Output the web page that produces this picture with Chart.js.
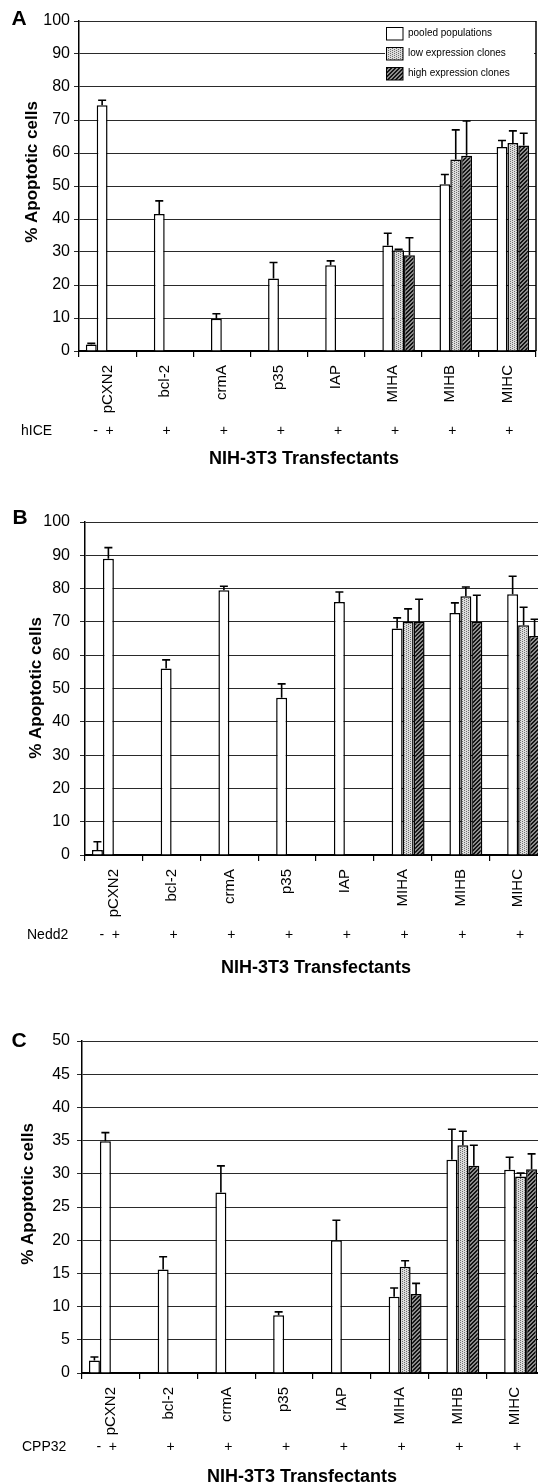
<!DOCTYPE html>
<html>
<head>
<meta charset="utf-8">
<script src="https://cdn.jsdelivr.net/npm/chart.js@4.4.1/dist/chart.umd.min.js"></script>
<style>
  html, body { margin: 0; padding: 0; background: #fff; width: 538px; height: 1484px; overflow: hidden; }
  canvas { position: absolute; left: 0; }
</style>
</head>
<body>
<canvas id="chartA" width="560" height="480" style="top:0px"></canvas>
<canvas id="chartB" width="560" height="520" style="top:480px"></canvas>
<canvas id="chartC" width="560" height="484" style="top:1000px"></canvas>
<script>
'use strict';

var categories = ['pCXN2', 'bcl-2', 'crmA', 'p35', 'IAP', 'MIHA', 'MIHB', 'MIHC'];
var seriesNames = ['pooled populations', 'low expression clones', 'high expression clones'];
var plusSigns = ['+', '+', '+', '+', '+', '+', '+', '+'];
var xTitle = 'NIH-3T3 Transfectants';
var yTitle = '% Apoptotic cells';

// Panel A - hICE
var hiceControl    = [2.0, null, null, null, null, null, null, null];
var hiceControlErr = [0.3, 0, 0, 0, 0, 0, 0, 0];
var hicePooled     = [74.5, 41.5, 9.8, 22.0, 26.0, 32.0, 50.5, 61.8];
var hicePooledErr  = [1.5, 4.0, 1.5, 4.8, 1.3, 3.7, 3.0, 2.0];
var hiceLow        = [null, null, null, null, null, 30.5, 58.0, 63.0];
var hiceLowErr     = [0, 0, 0, 0, 0, 0.3, 9.0, 3.7];
var hiceHigh       = [null, null, null, null, null, 29.0, 59.2, 62.3];
var hiceHighErr    = [0, 0, 0, 0, 0, 5.3, 10.5, 3.7];

// Panel B - Nedd2
var neddControl    = [1.5, null, null, null, null, null, null, null];
var neddControlErr = [2.5, 0, 0, 0, 0, 0, 0, 0];
var neddPooled     = [89.0, 56.0, 79.5, 47.2, 76.0, 68.0, 72.7, 78.3];
var neddPooledErr  = [3.3, 2.6, 1.2, 4.2, 3.0, 3.2, 3.0, 5.4];
var neddLow        = [null, null, null, null, null, 70.0, 77.7, 69.0];
var neddLowErr     = [0, 0, 0, 0, 0, 3.9, 2.8, 5.4];
var neddHigh       = [null, null, null, null, null, 70.0, 70.0, 65.8];
var neddHighErr    = [0, 0, 0, 0, 0, 6.8, 8.0, 5.0];

// Panel C - CPP32
var cppControl     = [1.9, null, null, null, null, null, null, null];
var cppControlErr  = [0.5, 0, 0, 0, 0, 0, 0, 0];
var cppPooled      = [34.9, 15.6, 27.2, 8.7, 20.0, 11.5, 32.1, 30.6];
var cppPooledErr   = [1.3, 1.9, 4.0, 0.5, 3.0, 1.3, 4.6, 1.9];
var cppLow         = [null, null, null, null, null, 16.0, 34.3, 29.6];
var cppLowErr      = [0, 0, 0, 0, 0, 0.9, 2.1, 0.5];
var cppHigh        = [null, null, null, null, null, 11.9, 31.2, 30.7];
var cppHighErr     = [0, 0, 0, 0, 0, 1.6, 3.1, 2.3];

Chart.defaults.font.family = "'Liberation Sans', Arial, Helvetica, sans-serif";
Chart.defaults.color = '#000';

// fill patterns for the clone series
function makePattern(bg, fg, isDark) {
  var tile = document.createElement('canvas');
  tile.width = 4; tile.height = 4;
  var g = tile.getContext('2d');
  g.fillStyle = bg;
  g.fillRect(0, 0, 4, 4);
  g.fillStyle = fg;
  for (var x = 0; x < 4; x++) {
    for (var y = 0; y < 4; y++) {
      if (isDark) {
        if ((x + y) % 4 === 3 || (x + y) % 4 === 2) g.fillRect(x, y, 1, 1);
      } else {
        if ((x + 2 * y) % 4 === 0) g.fillRect(x, y, 1, 1);
      }
    }
  }
  return document.createElement('canvas').getContext('2d').createPattern(tile, 'repeat');
}
var stipple = makePattern('#dcdcdc', '#6e6e6e', false);
var hatch = makePattern('#8c8c8c', '#141414', true);

var errorBars = {
  id: 'errorBars',
  afterDatasetsDraw: function (chart) {
    var ctx = chart.ctx, yScale = chart.scales.y;
    ctx.save();
    ctx.strokeStyle = '#000';
    ctx.lineWidth = 1.6;
    chart.data.datasets.forEach(function (ds, di) {
      var meta = chart.getDatasetMeta(di);
      meta.data.forEach(function (bar, i) {
        var v = ds.data[i], e = ds.errors[i];
        if (v == null || !e) return;
        var top = yScale.getPixelForValue(v + e);
        ctx.beginPath();
        ctx.moveTo(bar.x, bar.y);
        ctx.lineTo(bar.x, top);
        ctx.moveTo(bar.x - 4, top);
        ctx.lineTo(bar.x + 4, top);
        ctx.stroke();
      });
    });
    ctx.restore();
  }
};

var panelText = {
  id: 'panelText',
  afterDraw: function (chart, args, o) {
    var ctx = chart.ctx, xs = chart.scales.x, area = chart.chartArea;
    ctx.save();
    ctx.fillStyle = '#000';
    // right frame
    ctx.strokeStyle = '#000';
    ctx.lineWidth = 1.5;
    ctx.beginPath();
    ctx.moveTo(area.right, area.top);
    ctx.lineTo(area.right, area.bottom);
    ctx.stroke();

    ctx.textBaseline = 'middle';
    ctx.font = "bold 21px 'Liberation Sans', Arial, sans-serif";
    ctx.textAlign = 'center';
    ctx.fillText(o.letter, o.letterX, o.letterY);

    ctx.font = "14px 'Liberation Sans', Arial, sans-serif";
    ctx.textAlign = 'left';
    ctx.fillText(o.treatment, o.treatX, o.treatY);
    ctx.textAlign = 'center';
    plusSigns.forEach(function (s, i) {
      ctx.fillText(s, xs.getPixelForValue(i) + 2, o.treatY);
    });
    ctx.fillText('-', xs.getPixelForValue(0) - 12, o.treatY);

    ctx.font = "bold 18px 'Liberation Sans', Arial, sans-serif";
    ctx.fillText(xTitle, o.titleX, o.titleY);

    ctx.font = "bold 17px 'Liberation Sans', Arial, sans-serif";
    ctx.translate(o.yTitleX, o.yTitleY);
    ctx.rotate(-Math.PI / 2);
    ctx.fillText(yTitle, 0, 0);
    ctx.restore();
  }
};

var insideLegend = {
  id: 'insideLegend',
  afterDraw: function (chart, args, o) {
    if (!o.show) return;
    var ctx = chart.ctx, area = chart.chartArea;
    var boxX = area.right - 150, top = area.top;
    ctx.save();
    ctx.fillStyle = '#fff';
    ctx.fillRect(boxX - 1, top + 2, area.right - boxX - 1, 60);
    ctx.font = "10px 'Liberation Sans', Arial, sans-serif";
    ctx.textBaseline = 'middle';
    ctx.textAlign = 'left';
    chart.data.datasets.slice(1).forEach(function (ds, i) {
      var cy = top + 12.5 + i * 20;
      ctx.fillStyle = ds.backgroundColor;
      ctx.fillRect(boxX, cy - 6.5, 17, 13);
      ctx.strokeStyle = '#000';
      ctx.lineWidth = 1;
      ctx.strokeRect(boxX + 0.5, cy - 6, 16.5, 12.5);
      ctx.fillStyle = '#000';
      ctx.fillText(ds.label, boxX + 22, cy);
    });
    ctx.restore();
  }
};

function makePanel(id, d, g) {
  var barStyle = { borderColor: '#000', borderWidth: 1.5, categoryPercentage: 0.76, barPercentage: 1.0 };
  function ds(label, data, errors, fill) {
    return Object.assign({ label: label, data: data, errors: errors, backgroundColor: fill }, barStyle);
  }
  return new Chart(document.getElementById(id), {
    type: 'bar',
    data: {
      labels: categories,
      datasets: [
        ds('control', d.control, d.controlErr, '#fff'),
        ds(seriesNames[0], d.pooled, d.pooledErr, '#fff'),
        ds(seriesNames[1], d.low, d.lowErr, stipple),
        ds(seriesNames[2], d.high, d.highErr, hatch)
      ]
    },
    options: {
      responsive: false,
      animation: false,
      layout: { padding: { top: g.top, right: g.right, left: 0, bottom: 0 } },
      plugins: {
        legend: { display: false },
        tooltip: { enabled: false },
        panelText: g.text,
        insideLegend: { show: g.legend }
      },
      scales: {
        x: {
          grid: { offset: true, drawOnChartArea: false, drawTicks: true, tickLength: 6, color: '#000', lineWidth: 1.2 },
          border: { display: true, color: '#000', width: 2 },
          ticks: { minRotation: 90, maxRotation: 90, autoSkip: false, padding: 8, font: { size: 15 }, color: '#000' },
          afterFit: function (s) { s.height = g.xHeight; }
        },
        y: {
          min: 0,
          max: g.max,
          grid: { color: '#2a2a2a', lineWidth: 1, tickLength: 5, drawTicks: true },
          border: { display: true, color: '#000', width: 1.5 },
          ticks: { stepSize: g.step, padding: g.tickPad, font: { size: 16 }, color: '#000' },
          afterFit: function (s) { s.width = g.yWidth; }
        }
      }
    },
    plugins: [errorBars, panelText, insideLegend]
  });
}

makePanel('chartA',
  { control: hiceControl, controlErr: hiceControlErr, pooled: hicePooled, pooledErr: hicePooledErr,
    low: hiceLow, lowErr: hiceLowErr, high: hiceHigh, highErr: hiceHighErr },
  { top: 21, right: 24, xHeight: 129, yWidth: 79, tickPad: 4, max: 100, step: 10, legend: true,
    text: { letter: 'A', letterX: 19, letterY: 19, treatment: 'hICE', treatX: 21, treatY: 431,
            titleX: 304, titleY: 459, yTitleX: 32, yTitleY: 172 } });

makePanel('chartB',
  { control: neddControl, controlErr: neddControlErr, pooled: neddPooled, pooledErr: neddPooledErr,
    low: neddLow, lowErr: neddLowErr, high: neddHigh, highErr: neddHighErr },
  { top: 42, right: 13, xHeight: 145, yWidth: 85, tickPad: 10, max: 100, step: 10, legend: false,
    text: { letter: 'B', letterX: 20, letterY: 38, treatment: 'Nedd2', treatX: 27, treatY: 455,
            titleX: 316, titleY: 488, yTitleX: 36, yTitleY: 208 } });

makePanel('chartC',
  { control: cppControl, controlErr: cppControlErr, pooled: cppPooled, pooledErr: cppPooledErr,
    low: cppLow, lowErr: cppLowErr, high: cppHigh, highErr: cppHighErr },
  { top: 41, right: 16, xHeight: 111, yWidth: 82, tickPad: 7, max: 50, step: 5, legend: false,
    text: { letter: 'C', letterX: 19, letterY: 41, treatment: 'CPP32', treatX: 22, treatY: 447,
            titleX: 302, titleY: 477, yTitleX: 28, yTitleY: 194 } });
</script>
</body>
</html>
